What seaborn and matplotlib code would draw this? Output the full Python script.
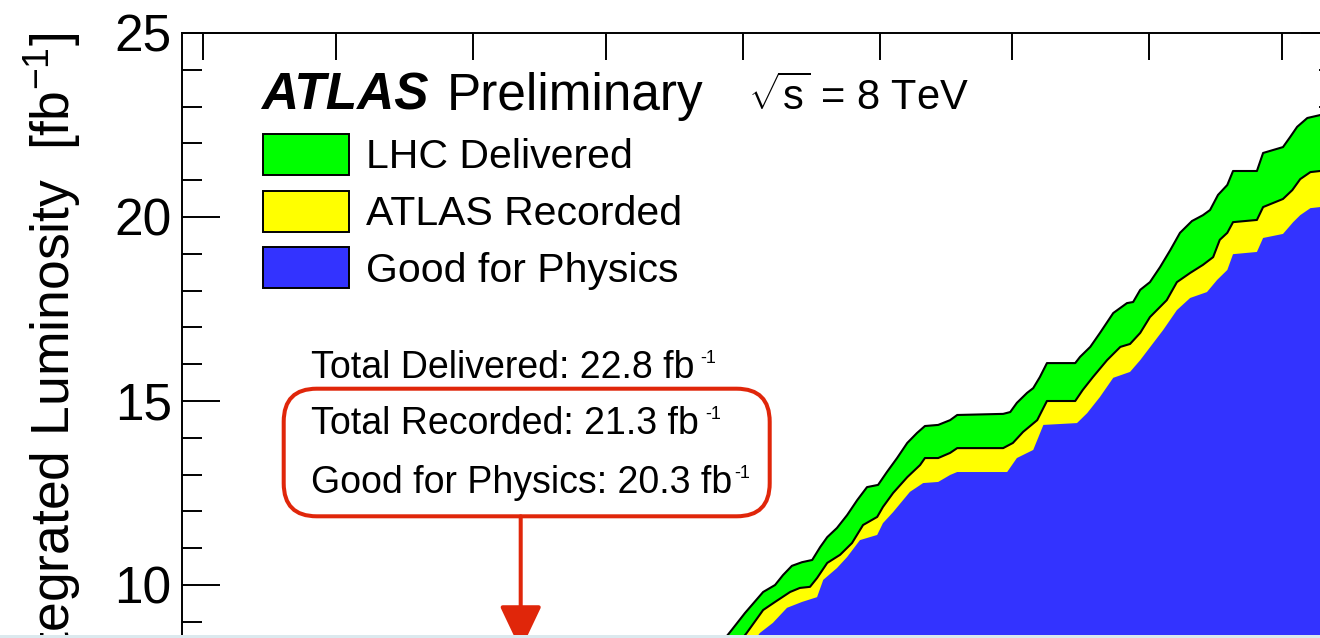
import numpy as np
import pandas as pd
import matplotlib
matplotlib.use("Agg")
import matplotlib.pyplot as plt
import matplotlib.dates as mdates
from matplotlib.patches import Patch, FancyBboxPatch, FancyArrowPatch, Rectangle
from matplotlib.ticker import MultipleLocator
import seaborn as sns

# ---------------- data (days after 1 April 2012, integrated luminosity fb^-1) ----
season_start = "2012-04-01"

days_delivered = [4, 30, 60, 85, 100, 112, 115, 119.5, 122.5, 126.6, 129.3, 131.1, 133.1,
                  135.4, 137.7, 139.5, 141.1, 143.3, 145.6, 147.9, 150.1, 152.6, 154.6,
                  156.9, 159.2, 161.4, 163.2, 166.2, 168.9, 170.5, 180.9, 182.5, 184.0,
                  186.3, 187.7, 189.2, 190.8, 197.2, 198.3, 200.6, 202.8, 205.8, 208.9,
                  210.3, 211.9, 214.1, 216.4, 218.7, 220.9, 223.6, 226.1, 227.7, 229.5,
                  231.6, 232.9, 238.3, 239.7, 244.2, 245.8, 247.4, 249.7, 252.6, 258]
lumi_delivered = [0.0, 1.0, 3.7, 6.3, 6.9, 7.8, 8.1, 8.78, 9.24, 9.81, 10.00, 10.27, 10.52,
                  10.62, 10.68, 11.03, 11.30, 11.55, 11.90, 12.31, 12.66, 12.72, 13.07,
                  13.45, 13.86, 14.13, 14.32, 14.35, 14.48, 14.62, 14.65, 14.70, 14.95,
                  15.22, 15.35, 15.65, 16.03, 16.03, 16.20, 16.47, 16.85, 17.39, 17.66,
                  17.69, 18.02, 18.23, 18.64, 19.10, 19.57, 19.89, 20.05, 20.19, 20.60,
                  20.87, 21.25, 21.25, 21.74, 21.90, 22.17, 22.45, 22.69, 22.77, 22.77]

days_recorded = [4, 30, 60, 85, 100, 112, 118, 122.9, 126.6, 129.3, 132.7, 134.9, 137.2,
                 138.8, 141.1, 144.0, 146.7, 149.2, 152.4, 153.7, 156.0, 159.2, 162.1,
                 163.2, 166.2, 168.9, 170.5, 180.9, 183.1, 185.4, 188.6, 190.8, 197.2,
                 198.9, 201.2, 204.4, 207.4, 209.6, 211.9, 214.1, 217.9, 220.2, 223.2,
                 226.1, 228.4, 229.9, 231.6, 232.9, 238.3, 239.7, 244.2, 246.3, 248.1,
                 250.4, 252.6, 258]
lumi_recorded = [0.0, 0.95, 3.5, 5.9, 6.5, 7.3, 7.95, 8.70, 9.32, 9.54, 9.81, 9.92, 9.95,
                 10.19, 10.60, 10.82, 11.14, 11.63, 11.85, 12.12, 12.50, 12.93, 13.26,
                 13.45, 13.45, 13.59, 13.72, 13.72, 13.86, 14.16, 14.48, 15.00, 15.00,
                 15.30, 15.65, 16.11, 16.47, 16.55, 16.85, 17.28, 17.74, 18.23, 18.48,
                 18.70, 18.91, 19.38, 19.57, 19.86, 19.92, 20.27, 20.49, 20.73, 21.03,
                 21.22, 21.25, 21.25]

days_good = [4, 30, 60, 85, 100, 112, 121, 125.9, 128.8, 132.0, 135.4, 138.8, 140.2, 143.3,
             145.6, 148.5, 152.4, 153.7, 156.0, 159.8, 162.8, 166.2, 168.9, 170.5, 181.8,
             184.0, 187.7, 190.0, 197.6, 199.9, 202.8, 205.8, 209.6, 211.9, 217.1, 220.2,
             223.2, 227.0, 229.3, 231.6, 232.9, 238.3, 239.7, 244.2, 246.5, 248.1, 250.4,
             252.6, 258]
lumi_good = [0.0, 0.9, 3.3, 5.6, 6.1, 6.9, 7.95, 8.70, 8.97, 9.38, 9.54, 9.67, 10.14, 10.46,
             10.76, 11.22, 11.36, 11.68, 11.98, 12.53, 12.77, 12.80, 12.99, 13.07, 13.07,
             13.45, 13.67, 14.35, 14.40, 14.67, 15.11, 15.63, 15.79, 16.11, 16.93, 17.47,
             17.80, 17.96, 18.29, 18.56, 18.99, 19.05, 19.43, 19.54, 19.86, 20.05, 20.24,
             20.27, 20.27]

legend_labels = ["LHC Delivered", "ATLAS Recorded", "Good for Physics"]
total_labels = ["Total Delivered", "Total Recorded", "Good for Physics"]
total_values = [22.8, 21.3, 20.3]
y_label = "Total Integrated Luminosity  [fb$^{-1}$]"
energy_label = r"$\sqrt{\mathrm{s}}$ = 8 TeV"

# ---------------- style ----------------
sns.set_theme(style="ticks")
plt.rcParams["font.family"] = ["Liberation Sans", "DejaVu Sans"]
plt.rcParams["mathtext.fontset"] = "custom"
plt.rcParams["mathtext.rm"] = "Liberation Sans"
plt.rcParams["mathtext.it"] = "Liberation Sans:italic"
plt.rcParams["mathtext.bf"] = "Liberation Sans:bold"
for k in ("text.color", "axes.labelcolor", "xtick.color", "ytick.color", "axes.edgecolor"):
    plt.rcParams[k] = "black"

GREEN, YELLOW, BLUE, RED = "#00ff00", "#ffff00", "#3333ff", "#e0260a"

W, H = 1320, 638
fig = plt.figure(figsize=(W / 100, H / 100), dpi=100)
fig.patch.set_facecolor("white")
T = fig.dpi_scale_trans


def P(x, y):
    return (x / 100, (H - y) / 100)


ax_left, ax_right, ax_top = 181.7, 1339.0, 33.0
ax_h = 25 * 36.8
ax = fig.add_axes([ax_left / W, (H - ax_top - ax_h) / H, (ax_right - ax_left) / W, ax_h / H])
ax.set_facecolor("white")

t0 = pd.Timestamp(season_start)


def to_dates(d):
    return t0 + pd.to_timedelta(np.asarray(d, dtype=float), unit="D")


x_del, x_rec, x_good = to_dates(days_delivered), to_dates(days_recorded), to_dates(days_good)

ax.fill_between(x_del, 0, lumi_delivered, color=GREEN, lw=0, zorder=1)
ax.fill_between(x_rec, 0, lumi_recorded, color=YELLOW, lw=0, zorder=2)
ax.fill_between(x_good, 0, lumi_good, color=BLUE, lw=0, zorder=3)
sns.lineplot(x=x_del, y=lumi_delivered, color="black", lw=1.5, estimator=None, ax=ax, zorder=4)
sns.lineplot(x=x_rec, y=lumi_recorded, color="black", lw=1.5, estimator=None, ax=ax, zorder=4)

ax.set_xlim(t0 - pd.Timedelta(days=4.93), t0 + pd.Timedelta(days=261.8 - 4.93))
ax.set_ylim(0, 25)
ax.xaxis.set_major_locator(mdates.MonthLocator())
ax.yaxis.set_major_locator(MultipleLocator(5))
ax.yaxis.set_minor_locator(MultipleLocator(1))
ax.tick_params(axis="x", which="major", direction="in", length=19.4, width=1.4,
               top=True, bottom=True, labelbottom=False, labeltop=False)
ax.tick_params(axis="x", which="minor", bottom=False, top=False)
ax.tick_params(axis="y", which="major", direction="in", length=27.4, width=1.4,
               left=True, right=True, labelsize=37, pad=7.2, colors="black")
ax.tick_params(axis="y", which="minor", direction="in", length=14.4, width=1.4,
               left=True, right=True)
for s in ax.spines.values():
    s.set_linewidth(1.4)
    s.set_color("black")
    s.set_zorder(6)
ax.set_xlabel("")
ax.set_ylabel(y_label, fontsize=38.5, loc="top", color="black")
ax.yaxis.set_label_coords(-0.0852, 1.0)

# ---------------- legend ----------------
handles = [Patch(facecolor=c, edgecolor="black", linewidth=1.4) for c in (GREEN, YELLOW, BLUE)]
ax.legend(handles, legend_labels, loc="upper left", bbox_to_anchor=P(263, 134),
          bbox_transform=T, frameon=False, borderpad=0, borderaxespad=0,
          fontsize=29.5, handlelength=2.1, handleheight=1.16, handletextpad=0.42,
          labelspacing=0.35, labelcolor="black")

# ---------------- header texts ----------------
fig.text(*P(261, 110), "ATLAS", fontsize=37, fontweight="bold", fontstyle="italic",
         transform=T, va="baseline", ha="left", color="black")
fig.text(*P(447, 110), "Preliminary", fontsize=37, transform=T, va="baseline", ha="left",
         color="black")
fig.text(*P(748, 110), energy_label, fontsize=30, transform=T, va="baseline", ha="left",
         color="black")

# ---------------- totals ----------------
renderer = fig.canvas.get_renderer()
baselines = [378.3, 434.3, 493.3]
gaps = [6, 6, 2]
for lab, val, yb, g in zip(total_labels, total_values, baselines, gaps):
    t = fig.text(*P(311, yb), f"{lab}: {val:.1f} fb", fontsize=27, transform=T,
                 va="baseline", ha="left", color="black")
    bb = t.get_window_extent(renderer=renderer)
    fig.text((bb.x1 + g) / 100, (H - yb + 15) / 100, "-1", fontsize=13, transform=T,
             va="baseline", ha="left", color="black")

box = FancyBboxPatch(P(283.7, 516.3), (769.7 - 283.7) / 100, (516.3 - 388.7) / 100,
                     boxstyle="round,pad=0,rounding_size=0.33", transform=T,
                     facecolor="none", edgecolor=RED, lw=2.9, zorder=10)
fig.add_artist(box)
arrow = FancyArrowPatch(P(520.7, 516.3), P(520.7, 650),
                        arrowstyle="-|>,head_length=27.4,head_width=13", mutation_scale=1,
                        transform=T, color=RED, lw=2.9, shrinkA=0, shrinkB=0, zorder=10)
fig.add_artist(arrow)

fig.add_artist(Rectangle((0, 0), W / 100, 0.03, transform=T, facecolor="#dbe9ee",
                         edgecolor="none", zorder=20))

fig.savefig("out.png", dpi=100)
